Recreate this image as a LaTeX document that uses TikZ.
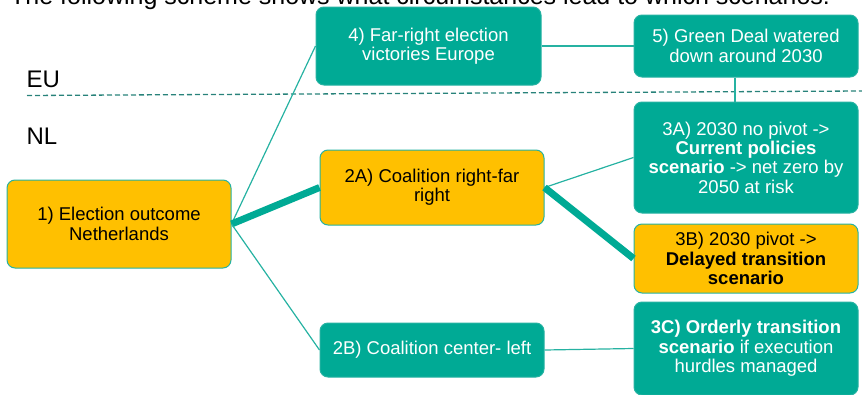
\documentclass[tikz,border=0pt]{standalone}
\usepackage{fontspec}
\setmainfont{Liberation Sans}
\definecolor{nteal}{RGB}{0,170,149}
\definecolor{nline}{RGB}{38,178,162}
\definecolor{ngold}{RGB}{255,192,0}
\definecolor{ndash}{RGB}{40,130,122}
\begin{document}
\begin{tikzpicture}[x=1pt,y=-1pt,
  box/.style={rounded corners=8pt,draw=nline,line width=1pt,minimum width=224pt,align=center,inner sep=2pt,font=\fontsize{18.5}{19.3}\selectfont},
  goldbox/.style={box,fill=ngold,text=black},
  tealbox/.style={box,fill=nteal,text=white},
  thinlink/.style={nline,line width=1.2pt},
  thicklink/.style={nteal,line width=7pt},
  region/.style={anchor=west,font=\fontsize{24}{26}\selectfont}]
\useasboundingbox (0,0) rectangle (862,394);
\clip (0,0) rectangle (862,394);
\node[anchor=base west,inner sep=0pt,font=\fontsize{25}{27}\selectfont] (title) at (10,4) {The following scheme shows what circumstances lead to which scenarios:};
\draw [ndash,line width=1.3pt,dash pattern=on 5pt off 3pt](27,95.5) -- (862,91);
\node[region] (eu) at (23,79) {EU};
\node[region] (nl) at (23,136) {NL};
\node[goldbox,minimum height=88pt] (n1) at (119,224) {1) Election outcome\\Netherlands};
\node[tealbox,minimum width=225pt,minimum height=78pt] (n4) at (428.5,46) {4) Far-right election\\victories Europe};
\node[tealbox,minimum height=62pt] (n5) at (746,46) {5) Green Deal watered\\down around 2030};
\node[goldbox,minimum height=75pt] (n2a) at (432,187.5) {2A) Coalition right-far\\right};
\node[tealbox,minimum height=54pt] (n2b) at (432,350) {2B) Coalition center- left};
\node[tealbox,minimum height=111pt] (n3a) at (746,157.5) {3A) 2030 no pivot ->\\\textbf{Current policies}\\\textbf{scenario} -> net zero by\\2050 at risk};
\node[goldbox,minimum height=69pt] (n3b) at (746,258.5) {3B) 2030 pivot ->\\\textbf{Delayed transition}\\\textbf{scenario}};
\node[tealbox,minimum height=93pt] (n3c) at (746,348.5) {\textbf{3C) Orderly transition}\\\textbf{scenario} if execution\\hurdles managed};
\draw [thinlink](n1.east) -- (n4.west);
\draw [thicklink](n1.east) -- (n2a.west);
\draw [thinlink](n1.east) -- (n2b.west);
\draw [thinlink](n4.east) -- (n5.west);
\draw [thinlink]([xshift=-11pt]n5.south) -- ([xshift=-11pt]n3a.north);
\draw [thinlink](n2a.east) -- (n3a.west);
\draw [thicklink](n2a.east) -- (n3b.west);
\draw [thinlink](n2b.east) -- (n3c.west);
\end{tikzpicture}
\end{document}
